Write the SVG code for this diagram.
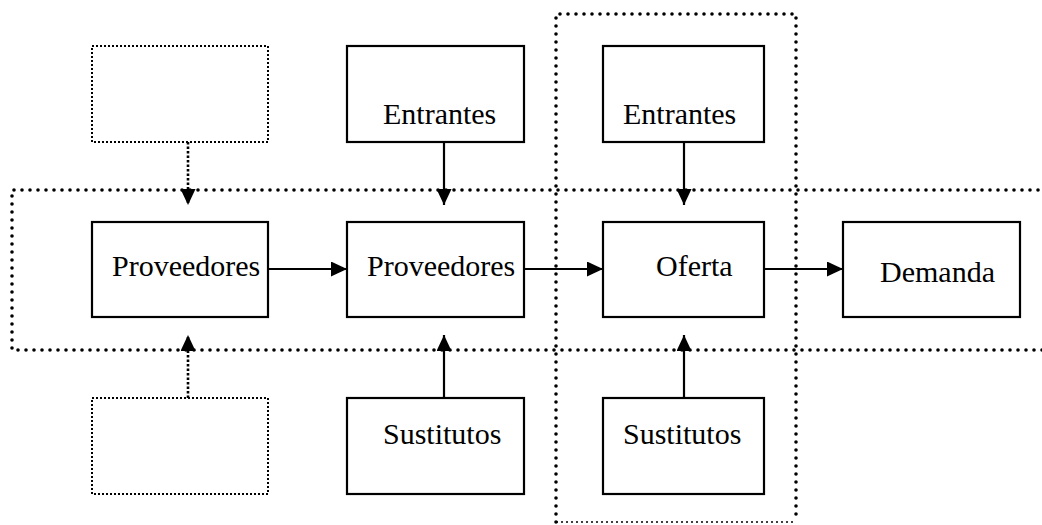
<svg xmlns="http://www.w3.org/2000/svg" width="1042" height="525" viewBox="0 0 1042 525">
<style>
.box{fill:#fff;stroke:#000;stroke-width:2.2}
.ghost{fill:#fff;stroke:#000;stroke-width:2;stroke-dasharray:2 2}
.zone{fill:none;stroke:#000;stroke-width:3.6;stroke-dasharray:0 8;stroke-linecap:round}
.conn{fill:none;stroke:#000;stroke-width:2.2}
.dconn{fill:none;stroke:#000;stroke-width:2.6;stroke-dasharray:2.5 2}
text{font-family:"Liberation Serif","Times New Roman",serif;font-size:30px;fill:#000}
</style>
<defs>
<marker id="ah" viewBox="0 0 16 15" refX="16" refY="7.5" markerWidth="16" markerHeight="15" markerUnits="userSpaceOnUse" orient="auto">
<path d="M0,0 L16,7.5 L0,15 z" fill="#000"/>
</marker>
</defs>
<rect width="1042" height="525" fill="#fff"/>
<g id="zones">
<path class="zone" d="M1046,190 H12 V350 H1046"/>
<path class="zone" d="M556,522 V14 H796 V522"/>
<path d="M556,522 H796" fill="none" stroke="#000" stroke-width="1.5" stroke-dasharray="2 3"/>
</g>
<g id="connectors">
<path class="dconn" d="M188,142 V205" marker-end="url(#ah)"/>
<path class="dconn" d="M188,398 V335" marker-end="url(#ah)"/>
<path class="conn" d="M444,142 V205" marker-end="url(#ah)"/>
<path class="conn" d="M444,398 V335" marker-end="url(#ah)"/>
<path class="conn" d="M684,142 V205" marker-end="url(#ah)"/>
<path class="conn" d="M684,398 V335" marker-end="url(#ah)"/>
<path class="conn" d="M268,269 H347" marker-end="url(#ah)"/>
<path class="conn" d="M524,269 H603" marker-end="url(#ah)"/>
<path class="conn" d="M764,269 H843" marker-end="url(#ah)"/>
</g>
<g id="blank-top"><rect class="ghost" x="92" y="46" width="176" height="96"/></g>
<g id="blank-bottom"><rect class="ghost" x="92" y="398" width="176" height="96"/></g>
<g id="proveedores-1"><rect class="box" x="92" y="222" width="176" height="95"/><text x="112" y="276">Proveedores</text></g>
<g id="proveedores-2"><rect class="box" x="347" y="222" width="177" height="95"/><text x="367" y="276">Proveedores</text></g>
<g id="oferta"><rect class="box" x="603" y="222" width="161" height="95"/><text x="656" y="276">Oferta</text></g>
<g id="demanda"><rect class="box" x="843" y="222" width="177" height="95"/><text x="880" y="282">Demanda</text></g>
<g id="entrantes-2"><rect class="box" x="347" y="46" width="177" height="96"/><text x="383" y="124">Entrantes</text></g>
<g id="entrantes-3"><rect class="box" x="603" y="46" width="161" height="96"/><text x="623" y="124">Entrantes</text></g>
<g id="sustitutos-2"><rect class="box" x="347" y="398" width="177" height="96"/><text x="383" y="444">Sustitutos</text></g>
<g id="sustitutos-3"><rect class="box" x="603" y="398" width="161" height="96"/><text x="623" y="444">Sustitutos</text></g>
</svg>
